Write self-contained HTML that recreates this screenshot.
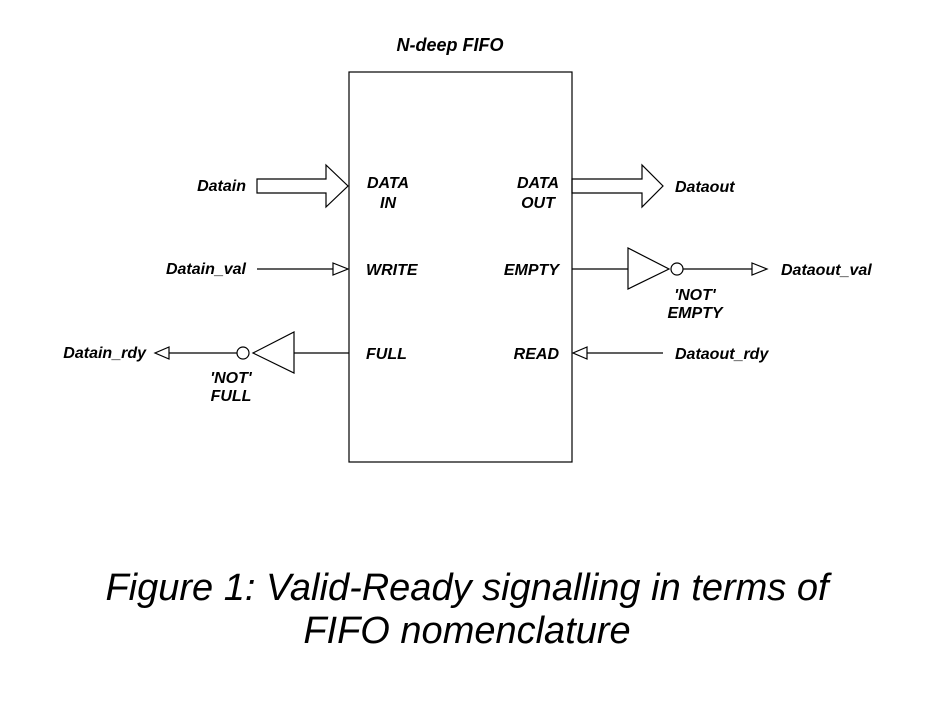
<!DOCTYPE html>
<html><head><style>body{margin:0;background:#fff}svg{display:block}</style></head><body>
<svg width="950" height="704" viewBox="0 0 950 704" xmlns="http://www.w3.org/2000/svg">
<g fill="none" stroke="#000" stroke-width="1.2">
<rect x="349" y="72" width="223" height="390"/>
<polygon points="257,179 326,179 326,165 348,186 326,207 326,193 257,193"/>
<polygon points="572,179 642,179 642,165 663,186 642,207 642,193 572,193"/>
<line x1="257" y1="269" x2="333" y2="269"/><polygon points="333,263 348,269 333,275"/>
<line x1="349" y1="353" x2="294" y2="353"/><polygon points="294,332 294,373 253,353"/>
<circle cx="243" cy="353" r="6"/><line x1="237" y1="353" x2="169" y2="353"/><polygon points="169,347 155,353 169,359"/>
<line x1="572" y1="269" x2="628" y2="269"/><polygon points="628,248 628,289 669,269"/>
<circle cx="677" cy="269" r="6"/><line x1="683" y1="269" x2="752" y2="269"/><polygon points="752,263 767,269 752,275"/>
<line x1="663" y1="353" x2="587" y2="353"/><polygon points="587,347 573,353 587,359"/>
</g>
<g font-family="Liberation Sans, sans-serif" font-weight="bold" font-style="italic" font-size="16" fill="#000">
<text x="450" y="51" font-size="18" text-anchor="middle">N-deep FIFO</text>
<text x="388" y="188" text-anchor="middle">DATA</text><text x="388" y="208" text-anchor="middle">IN</text>
<text x="366" y="275">WRITE</text><text x="366" y="359">FULL</text>
<text x="538" y="188" text-anchor="middle">DATA</text><text x="538" y="208" text-anchor="middle">OUT</text>
<text x="559" y="275" text-anchor="end">EMPTY</text><text x="559" y="359" text-anchor="end">READ</text>
<text x="246" y="191" text-anchor="end">Datain</text>
<text x="246" y="274" text-anchor="end">Datain_val</text>
<text x="146" y="358" text-anchor="end">Datain_rdy</text>
<text x="231" y="383" text-anchor="middle">'NOT'</text><text x="231" y="401" text-anchor="middle">FULL</text>
<text x="675" y="192">Dataout</text>
<text x="781" y="275">Dataout_val</text>
<text x="675" y="359">Dataout_rdy</text>
<text x="695" y="300" text-anchor="middle">'NOT'</text><text x="695" y="318" text-anchor="middle">EMPTY</text>
</g>
<g font-family="Liberation Sans, sans-serif" font-style="italic" font-size="38" fill="#000" text-anchor="middle">
<text x="467" y="600">Figure 1: Valid-Ready signalling in terms of</text>
<text x="467" y="643">FIFO nomenclature</text>
</g>
</svg>
</body></html>
